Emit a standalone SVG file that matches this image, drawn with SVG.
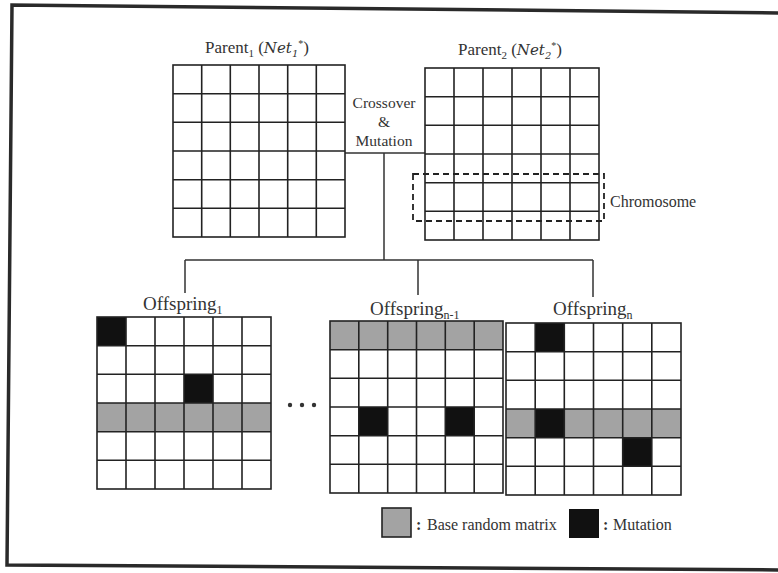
<svg xmlns="http://www.w3.org/2000/svg" width="778" height="573" viewBox="0 0 778 573">
<style>
.grid{fill:none;stroke:#222;stroke-width:1.6}
.g{fill:#a3a3a3}
.b{fill:#111}
.conn{fill:none;stroke:#333;stroke-width:1.5}
.t{font-family:"Liberation Serif",serif;fill:#333}
.s{font-size:12px}
.m{font-family:"DejaVu Serif","Liberation Serif",serif;font-style:italic}
</style>
<rect width="778" height="573" fill="#fff"/>
<path d="M790 13 L12 5 L7 565 L790 570" fill="none" stroke="#2a2a2a" stroke-width="3.5"/>

<g id="connectors">
<path class="conn" d="M345 153 H425 M384 153 V260 M185 260 H593 M185 260 V293 M418 260 V295 M593 260 V297"/>
</g>

<g id="crossover-label">
<text class="t" x="384" y="108" font-size="15.5" text-anchor="middle" fill="#555">Crossover</text>
<text class="t" x="384" y="127" font-size="15.5" text-anchor="middle" fill="#555">&amp;</text>
<text class="t" x="384" y="146" font-size="15.5" text-anchor="middle" fill="#555">Mutation</text>
</g>

<g id="parent1">
<text class="t" x="205" y="53" font-size="17">Parent<tspan font-size="11" dy="4">1</tspan><tspan dy="-4"> (</tspan><tspan class="m" font-size="15">Net</tspan><tspan class="m" font-size="10" dy="4">1</tspan><tspan font-size="10" dy="-10">*</tspan><tspan dy="6">)</tspan></text>
<rect class="grid" x="173" y="65" width="172" height="172"/>
<path class="grid" d="M201.7 65V237M230.3 65V237M259 65V237M287.7 65V237M316.3 65V237M173 93.7H345M173 122.3H345M173 151H345M173 179.7H345M173 208.3H345"/>
</g>

<g id="parent2">
<text class="t" x="458" y="55" font-size="17">Parent<tspan font-size="11" dy="4">2</tspan><tspan dy="-4"> (</tspan><tspan class="m" font-size="15">Net</tspan><tspan class="m" font-size="10" dy="4">2</tspan><tspan font-size="10" dy="-10">*</tspan><tspan dy="6">)</tspan></text>
<rect class="grid" x="425" y="68" width="174" height="172"/>
<path class="grid" d="M454 68V240M483 68V240M512 68V240M541 68V240M570 68V240M425 96.7H599M425 125.3H599M425 154H599M425 182.7H599M425 211.3H599"/>
</g>

<g id="chromosome">
<rect x="413" y="174" width="191" height="47" fill="none" stroke="#222" stroke-width="1.8" stroke-dasharray="6,4"/>
<text class="t" x="610" y="207" font-size="16" fill="#444">Chromosome</text>
</g>

<g id="offspring1">
<text class="t" x="143" y="310" font-size="19">Offspring<tspan class="s" dy="4">1</tspan></text>
<rect class="g" x="97" y="403" width="174" height="28.7"/>
<rect class="b" x="97" y="317" width="29" height="28.7"/>
<rect class="b" x="184" y="374.3" width="29" height="28.7"/>
<rect class="grid" x="97" y="317" width="174" height="172"/>
<path class="grid" d="M126 317V489M155 317V489M184 317V489M213 317V489M242 317V489M97 345.7H271M97 374.3H271M97 403H271M97 431.7H271M97 460.3H271"/>
</g>

<g id="ellipsis">
<circle cx="290" cy="405" r="2.2" fill="#333"/>
<circle cx="302" cy="405" r="2.2" fill="#333"/>
<circle cx="314" cy="405" r="2.2" fill="#333"/>
</g>

<g id="offspring-n-1">
<text class="t" x="370" y="315" font-size="19">Offspring<tspan class="s" dy="4">n-1</tspan></text>
<rect class="g" x="330" y="321" width="173" height="28.7"/>
<rect class="b" x="358.8" y="407" width="28.9" height="28.7"/>
<rect class="b" x="445.3" y="407" width="28.9" height="28.7"/>
<rect class="grid" x="330" y="321" width="173" height="172"/>
<path class="grid" d="M358.8 321V493M387.7 321V493M416.5 321V493M445.3 321V493M474.2 321V493M330 349.7H503M330 378.3H503M330 407H503M330 435.7H503M330 464.3H503"/>
</g>

<g id="offspring-n">
<text class="t" x="553" y="315" font-size="19">Offspring<tspan class="s" dy="4">n</tspan></text>
<rect class="g" x="506" y="409" width="175" height="28.7"/>
<rect class="b" x="535.2" y="323" width="29.1" height="28.7"/>
<rect class="b" x="535.2" y="409" width="29.1" height="28.7"/>
<rect class="b" x="622.7" y="437.7" width="29.1" height="28.6"/>
<rect class="grid" x="506" y="323" width="175" height="172"/>
<path class="grid" d="M535.2 323V495M564.3 323V495M593.5 323V495M622.7 323V495M651.8 323V495M506 351.7H681M506 380.3H681M506 409H681M506 437.7H681M506 466.3H681"/>
</g>

<g id="legend">
<rect x="382" y="508" width="29" height="29" fill="#a3a3a3" stroke="#222" stroke-width="1.6"/>
<text class="t" x="416" y="530" font-size="16" font-weight="bold" fill="#222">:</text>
<text class="t" x="427" y="530" font-size="16" fill="#444">Base random matrix</text>
<rect x="569" y="509" width="30" height="29" fill="#111"/>
<text class="t" x="603" y="530" font-size="16" font-weight="bold" fill="#222">:</text>
<text class="t" x="613" y="530" font-size="16" fill="#444">Mutation</text>
</g>
</svg>
